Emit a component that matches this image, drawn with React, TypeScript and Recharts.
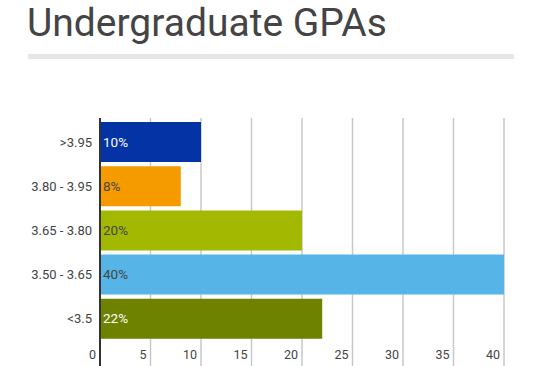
import React from 'react';
import { BarChart, Bar, XAxis, YAxis, CartesianGrid, Cell, LabelList } from 'recharts';

const categories = ['>3.95', '3.80 - 3.95', '3.65 - 3.80', '3.50 - 3.65', '<3.5'];
const percents = [10, 8, 20, 40, 22];
const xTicks = [0, 5, 10, 15, 20, 25, 30, 35, 40];

const barColors = ['#0433A6', '#F59B00', '#A3B800', '#56B4E6', '#6E8200'];
const labelColors = ['#ffffff', '#444444', '#444444', '#444444', '#ffffff'];

const data = categories.map((c, i) => ({ name: c, value: percents[i] }));

const FONT = 'Roboto, "Noto Sans", sans-serif';

const XTick = (props: any) => {
  const { x, payload } = props;
  const v = payload.value;
  return (
    <g>
      {v === 0 ? (
        <line x1={x} x2={x} y1={118} y2={366} stroke="#333" strokeWidth={2} />
      ) : null}
      <text x={x - 4} y={359} textAnchor="end" fontSize={12.5} fill="#444" fontFamily={FONT}>
        {v}
      </text>
    </g>
  );
};

const YTick = (props: any) => {
  const { y, payload } = props;
  return (
    <text x={92} y={y} dy={4.5} textAnchor="end" fontSize={13} fill="#444" fontFamily={FONT}>
      {payload.value}
    </text>
  );
};

const BarLabel = (props: any) => {
  const { x, y, height, value, index } = props;
  return (
    <text
      x={x + 3}
      y={y + height / 2}
      dy={4.5}
      textAnchor="start"
      fontSize={13.5}
      fill={labelColors[index]}
      fontFamily={FONT}
    >
      {value}%
    </text>
  );
};

export default function App() {
  return (
    <div style={{ position: 'absolute', left: 0, top: 0, width: 544, height: 366, background: '#fff', fontFamily: FONT }}>
      <div
        style={{
          position: 'absolute',
          left: 27,
          top: 0,
          fontSize: 39,
          lineHeight: '46px',
          color: '#444',
          fontFamily: FONT,
          whiteSpace: 'nowrap',
        }}
      >
        Undergraduate GPAs
      </div>
      <div style={{ position: 'absolute', left: 28, top: 54, width: 486, height: 5, background: '#e6e6e6' }} />
      <div style={{ position: 'absolute', left: 0, top: 0 }}>
        <BarChart
          width={544}
          height={366}
          data={data}
          layout="vertical"
          margin={{ top: 120, right: 40, bottom: 0, left: 0 }}
        >
          <CartesianGrid horizontal={false} y={118} height={248} stroke="#c8c8c8" strokeWidth={1.5} />
          <XAxis
            type="number"
            domain={[0, 40]}
            ticks={xTicks}
            axisLine={false}
            tickLine={false}
            height={25}
            tick={<XTick />}
            interval={0}
          />
          <YAxis
            type="category"
            dataKey="name"
            width={100}
            axisLine={false}
            tickLine={false}
            tick={<YTick />}
            interval={0}
          />
          <Bar dataKey="value" barSize={40} isAnimationActive={false}>
            {data.map((d, i) => (
              <Cell key={d.name} fill={barColors[i]} />
            ))}
            <LabelList dataKey="value" content={<BarLabel />} />
          </Bar>
        </BarChart>
      </div>
    </div>
  );
}
